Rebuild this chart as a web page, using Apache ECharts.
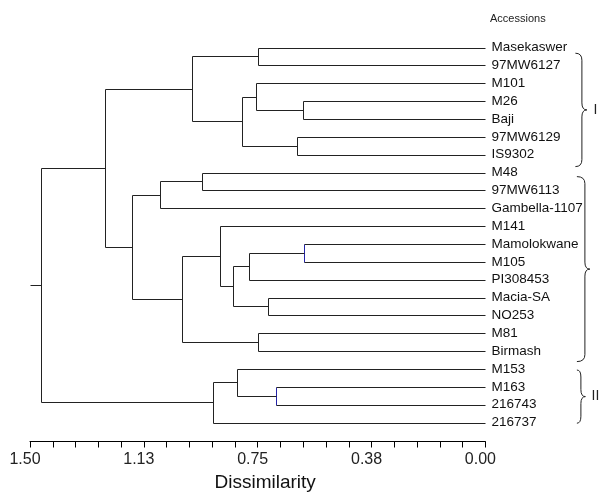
<!DOCTYPE html>
<html>
<head>
<meta charset="utf-8">
<script src="https://cdn.jsdelivr.net/npm/echarts@6/dist/echarts.min.js"></script>
<style>html,body{margin:0;padding:0;background:#fff}#c{width:602px;height:494px}</style>
</head>
<body>
<div id="c"></div>
<script>
// ---- data ----
const leaves = ['Masekaswer','97MW6127','M101','M26','Baji','97MW6129','IS9302','M48','97MW6113','Gambella-1107','M141','Mamolokwane','M105','PI308453','Macia-SA','NO253','M81','Birmash','M153','M163','216743','216737'];
// merge k creates cluster 'C'+(k+1)
const mergeLeft  = ['Masekaswer','M26','M101','97MW6129','C3','C1','M48','C7','Mamolokwane','C9','Macia-SA','C10','M141','M81','C13','C8','C6','M163','M153','C19','C17'];
const mergeRight = ['97MW6127','Baji','C2','IS9302','C4','C5','97MW6113','Gambella-1107','M105','PI308453','NO253','C11','C12','Birmash','C14','C15','C16','216743','C18','216737','C20'];
const mergeHeight = [0.750,0.602,0.756,0.621,0.803,0.967,0.934,1.073,0.597,0.779,0.715,0.830,0.874,0.750,1.000,1.163,1.253,0.691,0.819,0.898,1.465];
const highlighted = ['C9','C18'];
const axisMax = 1.5;
const tickStep = 0.075;
const labelStep = 0.375;
const tickLabels = ['0.00','0.38','0.75','1.13','1.50'];
const braceFrom = [0.32, 7.23, 18.06];
const braceTo = [6.67, 17.59, 21.04];
const braceLabels = ['I', '', 'II'];

// ---- styles (pixel offsets from the 0.00 edge) ----
const braceStyle = [
  {x0: 90, x1: 96.5, tip: 101.5, tx: 110},
  {x0: 91.5, x1: 99.5, tip: 104.5, tx: 110},
  {x0: 91.5, x1: 95.5, tip: 100, tx: 110}
];
const FONT = "'Liberation Sans', Arial, sans-serif";

// ---- build segments from the tree ----
const pos = {};
leaves.forEach((n, i) => { pos[n] = {x: 0, y: i}; });
const segments = [];
mergeHeight.forEach((h, k) => {
  const id = 'C' + (k + 1);
  const a = pos[mergeLeft[k]], b = pos[mergeRight[k]];
  const hl = highlighted.indexOf(id) >= 0 ? 1 : 0;
  segments.push([h, a.y, h, b.y, hl]);
  segments.push([h, a.y, a.x, a.y, 0]);
  segments.push([h, b.y, b.x, b.y, 0]);
  pos[id] = {x: h, y: (a.y + b.y) / 2};
});
const root = pos['C' + mergeHeight.length];
segments.push([axisMax, root.y, root.x, root.y, 0]);

const braces = braceFrom.map((f, i) => [0, f, braceTo[i], i]);

const chart = echarts.init(document.getElementById('c'), null, {renderer: 'canvas'});
function crisp(v) { return Math.round(v) + 0.5; }

chart.setOption({
  animation: false,
  backgroundColor: '#fff',
  textStyle: {fontFamily: FONT},
  title: {
    text: 'Accessions', left: 490, top: 13, padding: 0,
    textStyle: {fontSize: 11, fontWeight: 'normal', color: '#222', fontFamily: FONT}
  },
  grid: {left: 30, right: 116.6, top: 47.5, height: 375, containLabel: false, outerBoundsMode: 'none'},
  xAxis: {
    type: 'value', min: 0, max: axisMax, interval: tickStep, inverse: true,
    position: 'bottom', offset: 19,
    name: 'Dissimilarity', nameLocation: 'middle', nameGap: 32,
    nameTextStyle: {fontSize: 19, color: '#111', padding: [0, 0, 0, 15], fontFamily: FONT},
    axisLine: {show: true, onZero: false, lineStyle: {color: '#000', width: 1}},
    axisTick: {show: true, length: 6, lineStyle: {color: '#000'}},
    splitLine: {show: false},
    axisLabel: {
      margin: 10, fontSize: 16, color: '#222', padding: [0, 10, 0, 0], fontFamily: FONT,
      formatter: function (v) {
        const k = v / labelStep;
        if (Math.abs(k - Math.round(k)) < 1e-6) return tickLabels[Math.round(k)];
        return '';
      }
    }
  },
  yAxis: [
    {type: 'value', min: 0, max: leaves.length - 1, inverse: true, show: false},
    {
      type: 'category', data: leaves, inverse: true, boundaryGap: false, position: 'right',
      axisLine: {show: false}, axisTick: {show: false}, splitLine: {show: false},
      axisLabel: {margin: 6, fontSize: 13.5, color: '#111', fontFamily: FONT, interval: 0}
    }
  ],
  series: [
    {
      type: 'custom', yAxisIndex: 0, clip: false,
      data: segments,
      encode: {x: [0, 2], y: [1, 3]},
      renderItem: function (params, api) {
        const p1 = api.coord([api.value(0), api.value(1)]);
        const p2 = api.coord([api.value(2), api.value(3)]);
        const hl = api.value(4) === 1;
        return {
          type: 'line',
          shape: {x1: crisp(p1[0]), y1: crisp(p1[1]), x2: crisp(p2[0]), y2: crisp(p2[1])},
          style: {stroke: hl ? '#2424a8' : '#222', lineWidth: 1}
        };
      }
    },
    {
      type: 'custom', yAxisIndex: 0, clip: false,
      data: braces,
      encode: {x: 0, y: [1, 2]},
      renderItem: function (params, api) {
        const i = api.value(3);
        const st = braceStyle[i];
        const pt = api.coord([0, api.value(1)]);
        const pb = api.coord([0, api.value(2)]);
        const bx = pt[0];
        const x0 = bx + st.x0, x1 = bx + st.x1, tip = bx + st.tip;
        const yt = pt[1], yb = pb[1], ym = (yt + yb) / 2;
        const r = 7;
        const path = 'M' + x0 + ' ' + yt +
          ' Q' + x1 + ' ' + yt + ' ' + x1 + ' ' + (yt + r) +
          ' L' + x1 + ' ' + (ym - r) +
          ' Q' + x1 + ' ' + ym + ' ' + tip + ' ' + ym +
          ' Q' + x1 + ' ' + ym + ' ' + x1 + ' ' + (ym + r) +
          ' L' + x1 + ' ' + (yb - r) +
          ' Q' + x1 + ' ' + yb + ' ' + x0 + ' ' + yb;
        const children = [{
          type: 'path',
          shape: {pathData: path},
          style: {fill: 'none', stroke: '#222', lineWidth: 1}
        }];
        if (braceLabels[i]) {
          children.push({
            type: 'text',
            style: {
              text: braceLabels[i], x: bx + st.tx, y: ym,
              align: 'center', verticalAlign: 'middle',
              fontSize: 14, fill: '#222', fontFamily: FONT
            }
          });
        }
        return {type: 'group', children: children};
      }
    }
  ]
});
</script>
</body>
</html>
